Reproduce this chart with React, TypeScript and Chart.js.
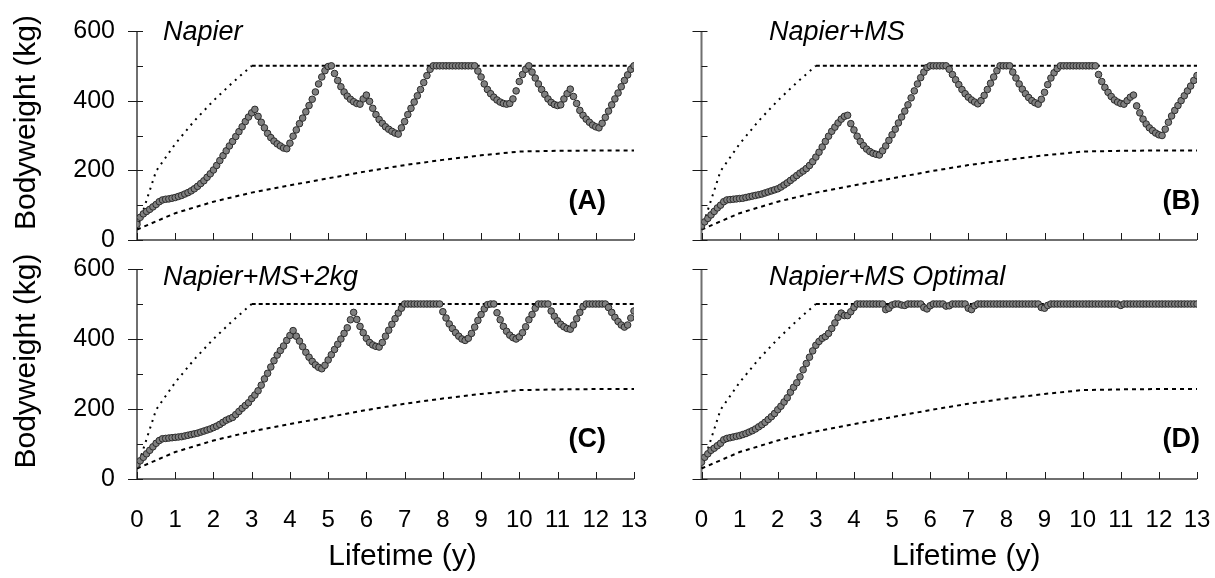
import React, { useEffect, useRef } from "react";
import { Chart, registerables } from "chart.js";

Chart.register(...registerables);

// ---------------- DATA ----------------
// Lifetime axis (years) and tick labels
const xTickValues = [0, 1, 2, 3, 4, 5, 6, 7, 8, 9, 10, 11, 12, 13];
const yLabelValues = [0, 200, 400, 600];
const yMinorValues = [100, 300, 500];
const MONTHS_PER_YEAR = 12;

// Upper bound (potential growth) and lower bound curves, kg
const upperYears = [0, 0.5, 1, 1.5, 2, 2.5, 3, 13];
const upperKg = [30, 198, 276, 342, 400, 452, 500, 500];
const lowerYears = [0, 1, 2, 3, 4, 5, 6, 7, 8, 9, 10, 11, 12, 13];
const lowerKg = [30, 77, 110, 136, 157, 177, 197, 215, 230, 243, 254, 256, 257, 257];

// Monthly bodyweight (kg), month 0 .. month 156
const napier = [
  45, 65, 75, 82, 88, 95, 102, 110, 115, 117, 118, 120, 122,
  125, 128, 132, 136, 141, 147, 154, 162, 170, 180, 190, 201,
  214, 228, 242, 256, 270, 283, 297, 311, 325, 340, 353, 365,
  375, 355, 338, 322, 306, 294, 284, 276, 270, 264, 262, 278,
  298, 316, 334, 350, 368, 386, 404, 425, 448, 468, 486, 498,
  500, 478, 458, 440, 425, 413, 404, 397, 392, 390, 405, 416,
  398, 378, 360, 346, 335, 325, 318, 312, 307, 304, 322, 340,
  360, 378, 396, 414, 432, 452, 472, 490, 500, 500, 500, 500,
  500, 500, 500, 500, 500, 500, 500, 500, 500, 500, 485, 468,
  448, 432, 420, 410, 402, 396, 392, 390, 392, 405, 428, 455,
  475, 490, 500, 482, 465, 448, 432, 418, 405, 395, 389, 386,
  388, 405, 420, 433, 412, 392, 372, 358, 347, 338, 330, 325,
  322, 335, 352, 370, 388, 405, 422, 440, 458, 474, 490, 500,
];

const napierMS = [
  40, 52, 62, 72, 82, 92, 100, 110, 115, 116, 117, 118, 119,
  120, 122, 124, 126, 128, 130, 132, 135, 138, 141, 144, 147,
  152, 158, 164, 171, 178, 185, 192, 198, 205, 214, 225, 238,
  252, 267, 283, 298, 312, 324, 336, 347, 355, 358, 334, 316,
  298, 283, 271, 261, 254, 249, 246, 244, 256, 270, 286, 302,
  318, 336, 353, 370, 388, 408, 428, 448, 466, 482, 495, 500,
  500, 500, 500, 500, 500, 490, 475, 460, 446, 432, 420, 410,
  402, 396, 391, 400, 415, 432, 450, 468, 486, 500, 500, 500,
  500, 482, 465, 448, 433, 420, 409, 400, 394, 390, 404, 424,
  446, 465, 480, 492, 500, 500, 500, 500, 500, 500, 500, 500,
  500, 500, 500, 500, 475, 455, 438, 424, 412, 402, 396, 392,
  390, 400, 410, 416, 385, 365, 347, 333, 322, 314, 307, 302,
  300, 318, 338, 356, 372, 386, 400, 414, 428, 442, 458, 472,
];

const napierMS2kg = [
  42, 52, 62, 72, 82, 92, 102, 110, 115, 116, 117, 118, 119,
  120, 121, 123, 125, 127, 129, 131, 134, 137, 140, 143, 147,
  151, 156, 162, 168, 172, 176, 184, 193, 202, 210, 218, 230,
  240, 252, 268, 286, 302, 320, 338, 354, 367, 380, 396, 410,
  424, 408, 394, 378, 362, 348, 336, 326, 319, 315, 325, 340,
  355, 370, 385, 400, 416, 432, 455, 476, 456, 436, 418, 402,
  390, 383, 379, 377, 390, 408, 425, 442, 458, 474, 488, 500,
  500, 500, 500, 500, 500, 500, 500, 500, 500, 500, 500, 478,
  460, 443, 430, 418, 408, 400, 396, 402, 416, 434, 453, 470,
  486, 498, 500, 500, 475, 455, 436, 422, 411, 404, 400, 406,
  418, 435, 455, 470, 488, 500, 500, 500, 500, 480, 465, 452,
  442, 435, 430, 428, 440, 458, 476, 492, 500, 500, 500, 500,
  500, 500, 500, 490, 476, 462, 450, 440, 434, 440, 460, 480,
];

const napierMSOptimal = [
  48, 62, 72, 82, 88, 95, 102, 112, 116, 118, 120, 122, 124,
  127, 130, 134, 138, 143, 149, 155, 162, 170, 178, 187, 198,
  208, 220, 232, 248, 262, 275, 292, 312, 330, 348, 366, 382,
  393, 402, 407, 416, 430, 446, 462, 474, 467, 467, 478, 490,
  500, 500, 500, 500, 500, 500, 500, 500, 500, 484, 488, 497,
  500, 500, 497, 496, 500, 500, 500, 500, 500, 490, 486, 495,
  500, 500, 500, 500, 494, 495, 500, 500, 500, 500, 500, 488,
  484, 495, 500, 500, 500, 500, 500, 500, 500, 500, 500, 500,
  500, 500, 500, 500, 500, 500, 500, 500, 500, 500, 490, 488,
  496, 500, 500, 500, 500, 500, 500, 500, 500, 500, 500, 500,
  500, 500, 500, 500, 500, 500, 500, 500, 500, 500, 500, 496,
  500, 500, 500, 500, 500, 500, 500, 500, 500, 500, 500, 500,
  500, 500, 500, 500, 500, 500, 500, 500, 500, 500, 500, 500,
];

const panelTitles = ["Napier", "Napier+MS", "Napier+MS+2kg", "Napier+MS Optimal"];
const panelLetters = ["(A)", "(B)", "(C)", "(D)"];
const yAxisTitle = "Bodyweight (kg)";
const xAxisTitle = "Lifetime (y)";

// ---------------- LAYOUT ----------------
const W = 1215;
const H = 578;
const FONT = "'Liberation Sans', Arial, Helvetica, sans-serif";

type PanelCfg = {
  values: number[];
  title: string;
  letter: string;
  area: { left: number; right: number; top: number; bottom: number };
  yLabels: boolean;
  xLabels: boolean;
  titleX: number;
  titleBase: number;
  letterRight: number;
  letterY: number;
};

const panels: PanelCfg[] = [
  { values: napier, title: panelTitles[0], letter: panelLetters[0], area: { left: 137, right: 634, top: 31, bottom: 240 }, yLabels: true, xLabels: false, titleX: 163, titleBase: 40, letterRight: 606, letterY: 202 },
  { values: napierMS, title: panelTitles[1], letter: panelLetters[1], area: { left: 701.5, right: 1197, top: 31, bottom: 240 }, yLabels: false, xLabels: false, titleX: 769, titleBase: 40, letterRight: 1200, letterY: 202 },
  { values: napierMS2kg, title: panelTitles[2], letter: panelLetters[2], area: { left: 137, right: 634, top: 269, bottom: 479 }, yLabels: true, xLabels: true, titleX: 163, titleBase: 285, letterRight: 606, letterY: 440 },
  { values: napierMSOptimal, title: panelTitles[3], letter: panelLetters[3], area: { left: 701.5, right: 1197, top: 269, bottom: 479 }, yLabels: false, xLabels: true, titleX: 769, titleBase: 285, letterRight: 1200, letterY: 440 },
];

const toMonthly = (vals: number[]) => vals.map((v, i) => ({ x: i / MONTHS_PER_YEAR, y: v }));
const toXY = (xs: number[], ys: number[]) => xs.map((x, i) => ({ x, y: ys[i] }));

const decorPlugin = {
  id: "panelDecor",
  beforeDatasetsDraw(chart: any) {
    const { ctx, chartArea, scales } = chart;
    const { left, right, top, bottom } = chartArea;
    const x = scales.x;
    const y = scales.y;
    ctx.save();
    ctx.strokeStyle = "#6f6f6f";
    ctx.lineWidth = 2;
    ctx.beginPath();
    ctx.moveTo(left, top);
    ctx.lineTo(left, bottom);
    ctx.moveTo(left - 1, bottom);
    ctx.lineTo(right, bottom);
    ctx.stroke();
    ctx.strokeStyle = "#1a1a1a";
    ctx.lineWidth = 1;
    ctx.beginPath();
    for (const v of yLabelValues) {
      const py = Math.round(y.getPixelForValue(v)) + 0.5;
      ctx.moveTo(left - 9, py);
      ctx.lineTo(left + 6, py);
    }
    for (const v of yMinorValues) {
      const py = Math.round(y.getPixelForValue(v)) + 0.5;
      ctx.moveTo(left, py);
      ctx.lineTo(left + 6, py);
    }
    for (const v of xTickValues) {
      const px = Math.round(x.getPixelForValue(v)) + 0.5;
      ctx.moveTo(px, bottom);
      ctx.lineTo(px, bottom - 7);
    }
    ctx.stroke();
    ctx.restore();
  },
  afterDraw(chart: any, _args: any, opts: any) {
    const { ctx, chartArea } = chart;
    const { left, right, top, bottom } = chartArea;
    ctx.save();
    ctx.fillStyle = "#000";
    ctx.font = `italic 27px ${FONT}`;
    ctx.textAlign = "left";
    ctx.textBaseline = "alphabetic";
    ctx.fillText(opts.title, opts.titleX, opts.titleBase);
    ctx.font = `bold 27px ${FONT}`;
    ctx.textAlign = "right";
    ctx.textBaseline = "middle";
    ctx.fillText(opts.letter, opts.letterRight, opts.letterY);
    if (opts.yTitle) {
      ctx.save();
      ctx.font = `30px ${FONT}`;
      ctx.translate(27, (top + bottom) / 2 - 13);
      ctx.rotate(-Math.PI / 2);
      ctx.textAlign = "center";
      ctx.textBaseline = "middle";
      ctx.fillText(opts.yTitle, 0, 0);
      ctx.restore();
    }
    if (opts.xTitle) {
      ctx.font = `30px ${FONT}`;
      ctx.textAlign = "center";
      ctx.textBaseline = "middle";
      ctx.fillText(opts.xTitle, (left + right) / 2 + 17, 557);
    }
    ctx.restore();
  },
};

function Panel({ cfg }: { cfg: PanelCfg }) {
  const ref = useRef<HTMLCanvasElement | null>(null);
  useEffect(() => {
    if (!ref.current) return;
    const xH = cfg.xLabels ? 60 : 0;
    const yW = 100;
    const hidden = "rgba(0,0,0,0)";
    const chart = new Chart(ref.current, {
      type: "scatter",
      data: {
        datasets: [
          {
            data: toMonthly(cfg.values),
            showLine: false,
            pointRadius: 3.3,
            pointBackgroundColor: "#808080",
            pointBorderColor: "#2b2b2b",
            pointBorderWidth: 1,
            order: 0,
          },
          {
            data: toXY(upperYears, upperKg),
            showLine: true,
            borderColor: "#000",
            borderWidth: 2,
            borderDash: [4, 3],
            pointRadius: 0,
            tension: 0,
            order: 1,
            segment: {
              borderDash: (c: any) => (c.p0.parsed.x < 3 ? [2, 5] : undefined),
            },
          } as any,
          {
            data: toXY(lowerYears, lowerKg),
            showLine: true,
            borderColor: "#000",
            borderWidth: 2,
            borderDash: [4, 4],
            pointRadius: 0,
            tension: 0,
            order: 2,
          },
        ],
      },
      options: {
        responsive: false,
        animation: false,
        events: [],
        layout: {
          padding: {
            left: cfg.area.left - yW,
            right: W - cfg.area.right,
            top: cfg.area.top,
            bottom: H - cfg.area.bottom - xH,
          },
        },
        plugins: {
          legend: { display: false },
          tooltip: { enabled: false },
          title: { display: false },
          panelDecor: {
            title: cfg.title,
            letter: cfg.letter,
            titleX: cfg.titleX,
            titleBase: cfg.titleBase,
            letterRight: cfg.letterRight,
            letterY: cfg.letterY,
            yTitle: cfg.yLabels ? yAxisTitle : "",
            xTitle: cfg.xLabels ? xAxisTitle : "",
          },
        } as any,
        scales: {
          x: {
            type: "linear",
            min: 0,
            max: 13,
            grid: { display: true, drawOnChartArea: false, drawTicks: true, tickLength: 27, color: hidden },
            border: { display: false },
            afterBuildTicks: (s: any) => {
              s.ticks = xTickValues.map((v) => ({ value: v }));
            },
            afterFit: (s: any) => {
              s.height = xH;
            },
            ticks: {
              display: cfg.xLabels,
              padding: 0,
              color: "#000",
              maxRotation: 0,
              autoSkip: false,
              font: { family: FONT, size: 24 },
            },
          },
          y: {
            type: "linear",
            min: 0,
            max: 600,
            grid: { display: true, drawOnChartArea: false, drawTicks: true, tickLength: 22, color: hidden },
            border: { display: false },
            afterBuildTicks: (s: any) => {
              s.ticks = yLabelValues.map((v) => ({ value: v }));
            },
            afterFit: (s: any) => {
              s.width = yW;
            },
            ticks: {
              display: cfg.yLabels,
              padding: 0,
              color: "#000",
              font: { family: FONT, size: 25 },
            },
          },
        },
      },
      plugins: [decorPlugin as any],
    });
    return () => chart.destroy();
  }, [cfg]);
  return (
    <canvas
      ref={ref}
      width={W}
      height={H}
      style={{ position: "absolute", left: 0, top: 0, width: W, height: H }}
    />
  );
}

export default function App() {
  return (
    <div style={{ position: "absolute", left: 0, top: 0, width: W, height: H, background: "#fff", overflow: "hidden" }}>
      {panels.map((p, i) => (
        <Panel key={i} cfg={p} />
      ))}
    </div>
  );
}
